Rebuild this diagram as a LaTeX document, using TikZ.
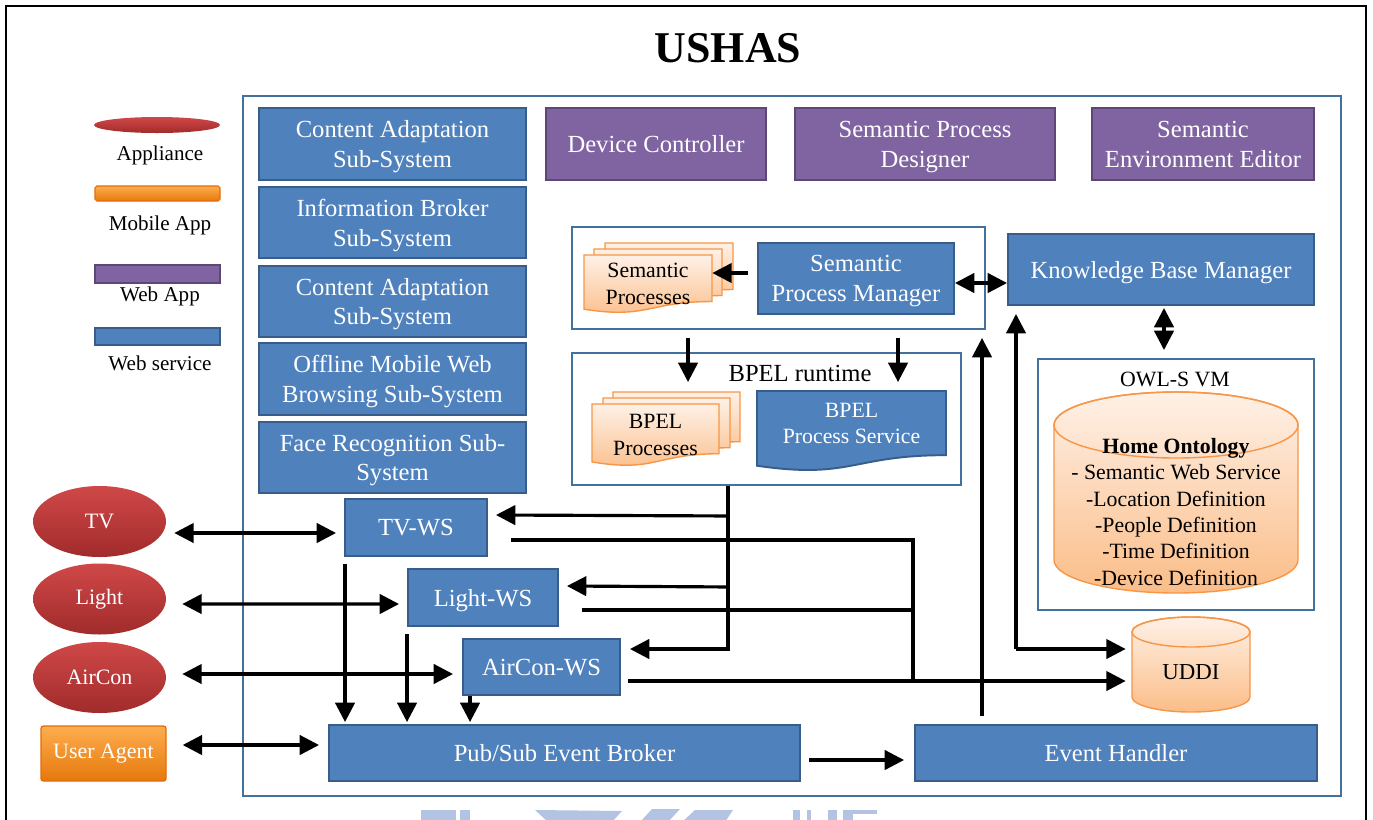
\documentclass[tikz,border=0pt]{standalone}
\usepackage{fontspec}
\setmainfont{Liberation Serif}
\usetikzlibrary{arrows.meta,calc,shapes.geometric}

\definecolor{wsblue}{HTML}{4F81BD}
\definecolor{wsedge}{HTML}{385D8A}
\definecolor{wapurple}{HTML}{8064A2}
\definecolor{waedge}{HTML}{5C4776}
\definecolor{framecol}{HTML}{41719C}
\definecolor{redtop}{HTML}{D04848}
\definecolor{redbot}{HTML}{A12B2B}
\definecolor{orgtop}{HTML}{FDAE4E}
\definecolor{orgbot}{HTML}{E6780C}
\definecolor{orgedge}{HTML}{E46C0A}
\definecolor{pchtop}{HTML}{FEF1E7}
\definecolor{pchbot}{HTML}{FBBD88}
\definecolor{pchedge}{HTML}{F79646}
\definecolor{wmark}{HTML}{B3C3E2}

\tikzset{
  big/.style={font=\fontsize{14}{17}\selectfont},
  mid/.style={font=\fontsize{12.4}{15}\selectfont},
  small/.style={font=\fontsize{12}{14}\selectfont},
  wsbox/.style={draw=wsedge, fill=wsblue, line width=1.1pt, text=white,
    align=center, inner sep=0pt, text depth=0pt, big},
  wabox/.style={wsbox, draw=waedge, fill=wapurple},
  panel/.style={draw=framecol, line width=1.1pt, fill=white, inner sep=0pt},
  appl/.style={ellipse, top color=redtop, bottom color=redbot, draw=none,
    text=white, minimum width=2.66cm, minimum height=1.42cm, inner sep=0pt,
    font=\fontsize{12.5}{15}\selectfont},
  orangebox/.style={inner sep=0pt, top color=orgtop, bottom color=orgbot,
    draw=orgedge, line width=0.8pt, rounded corners=1.5pt},
  conn/.style={line width=1.8pt},
  arr/.style={conn, -{Triangle[length=11pt,width=11pt]}},
  darr/.style={conn, {Triangle[length=11pt,width=11pt]}-{Triangle[length=11pt,width=11pt]}},
  sheet/.style={draw=pchedge, line width=0.8pt, top color=pchtop, bottom color=pchbot},
  bluesheet/.style={draw=wsedge, line width=1.1pt, fill=wsblue},
  txtonly/.style={inner sep=0pt, align=center}
}

% rectangular node given by its corners: [style]{name}{x0}{y0}{x1}{y1}{text}
\newcommand\cornernode[7][]{%
  \node[#1, minimum width={(#5-#3)*0.02cm}, minimum height={(#6-#4)*0.02cm}]
    (#2) at ({(#3+#5)/2},{(#4+#6)/2}) {#7};}

% document sheet with a wavy lower edge: [style]{x0}{y0}{x1}{y1}
\newcommand\docsheet[5][sheet]{%
  \path[#1] (#2,#3) -- (#4,#3) -- (#4,{#3+0.802*(#5-#3)})
    .. controls ({(#2+#4)/2},{#3+0.802*(#5-#3)}) and ({(#2+#4)/2},{#3+1.107*(#5-#3)})
    .. (#2,{#3+0.934*(#5-#3)}) -- cycle;}

% upright cylinder: {x0}{y0}{x1}{y1}{end radius}
\newcommand\cylshape[5]{%
  \path[draw=pchedge, line width=0.8pt, top color=pchtop, bottom color=pchbot]
    (#1,{#2+#5}) -- (#1,{#4-#5})
    arc[start angle=180, end angle=0, x radius={(#3-#1)/2}, y radius=#5]
    -- (#3,{#2+#5})
    arc[start angle=0, end angle=-180, x radius={(#3-#1)/2}, y radius=#5] -- cycle;
  \draw[pchedge, line width=0.8pt] ({(#1+#3)/2},{#2+#5})
    ellipse[x radius={(#3-#1)/2}, y radius=#5];}

\begin{document}
\begin{tikzpicture}[x=0.02cm,y=-0.02cm]
\useasboundingbox (0,0) rectangle (1373,819);
\clip (0,0) rectangle (1373,819);

% page border
\draw[line width=1.2pt] (6,840) -- (6,6) -- (1366,6) -- (1366,840);

% title
\node[font=\bfseries\fontsize{25}{30}\selectfont] (title) at (728,48) {USHAS};

% legend
\node[ellipse, top color=redtop, bottom color=redbot, minimum width=2.52cm,
  minimum height=0.32cm, inner sep=0pt] (lgapp) at (157,125) {};
\node[small] (lgapptxt) at (160,155) {Appliance};
\cornernode[orangebox, rounded corners=1pt, line width=0.6pt]{lgmob}{95}{186}{220}{201}{}
\node[small] (lgmobtxt) at (160,225) {Mobile App};
\cornernode[inner sep=0pt, fill=wapurple, draw=waedge, line width=0.8pt]{lgweb}{95}{265}{220}{283}{}
\node[small] (lgwebtxt) at (160,296) {Web App};
\cornernode[inner sep=0pt, fill=wsblue, draw=wsedge, line width=0.8pt]{lgws}{95}{328}{220}{345}{}
\node[small] (lgwstxt) at (160,363) {Web service};

% USHAS frame
\cornernode[panel]{ushas}{243}{96}{1341}{796}{}

% sub-systems
\cornernode[wsbox]{ca1}{259}{108}{526}{180}{Content Adaptation\\Sub-System}
\cornernode[wsbox]{ib}{259}{187}{526}{258}{Information Broker\\Sub-System}
\cornernode[wsbox]{ca2}{259}{266}{526}{337}{Content Adaptation\\Sub-System}
\cornernode[wsbox]{omwb}{259}{343}{526}{415}{Offline Mobile Web\\Browsing Sub-System}
\cornernode[wsbox]{frs}{259}{422}{526}{493}{Face Recognition Sub-\\System}

% web applications
\cornernode[wabox]{dc}{546}{108}{766}{180}{Device Controller}
\cornernode[wabox]{spd}{795}{108}{1055}{180}{Semantic Process\\Designer}
\cornernode[wabox]{see}{1092}{108}{1314}{180}{Semantic\\Environment Editor}

% semantic process layer
\cornernode[panel]{semcont}{572}{227}{985}{329}{}
\docsheet{605}{243}{733}{301}
\docsheet{594}{249}{722}{307}
\docsheet{584}{255}{712}{313}
\cornernode[txtonly, mid]{sproc}{584}{255}{712}{313}{Semantic\\Processes}
\cornernode[wsbox]{spm}{758}{243}{954}{314}{Semantic\\Process Manager}

% BPEL runtime
\cornernode[panel]{bpelrt}{572}{353}{961}{485}{}
\node[big] (bpellbl) at (800,373) {BPEL runtime};
\docsheet{613}{392}{740}{454}
\docsheet{603}{398}{730}{460}
\docsheet{592}{404}{719}{466}
\cornernode[txtonly, mid]{bproc}{592}{404}{719}{466}{BPEL\\Processes}
\docsheet[bluesheet]{757}{391}{946}{471}
\cornernode[txtonly, mid, text=white]{bps}{757}{391}{946}{456}{BPEL\\Process Service}

% knowledge base
\cornernode[wsbox]{kbm}{1008}{234}{1314}{305}{Knowledge Base Manager}
\cornernode[panel]{owls}{1038}{359}{1314}{610}{}
\node[mid] (owlslbl) at (1175,379) {OWL-S VM};
\cylshape{1054}{392}{1298}{593}{33}
\node[txtonly, mid] (onto) at (1176,512) {\textbf{Home Ontology}\\- Semantic Web Service\\-Location Definition\\-People Definition\\-Time Definition\\-Device Definition};
\cylshape{1132}{617}{1250}{712}{15}
\cornernode[txtonly, font=\fontsize{13}{15}\selectfont]{uddi}{1132}{632}{1250}{712}{UDDI}

% device web services and event handling
\cornernode[wsbox]{tvws}{345}{499}{487}{556}{TV-WS}
\cornernode[wsbox]{lightws}{408}{569}{558}{626}{Light-WS}
\cornernode[wsbox]{airws}{463}{639}{620}{695}{AirCon-WS}
\cornernode[wsbox]{pubsub}{329}{725}{800}{781}{Pub/Sub Event Broker}
\cornernode[wsbox]{evh}{915}{725}{1317}{781}{Event Handler}

% appliances and user agent
\node[appl] (tv) at (99.5,521.5) {TV};
\node[appl] (light) at (99.5,599) {Light};
\node[appl] (aircon) at (99.5,677.5) {AirCon};
\cornernode[orangebox, text=white, font=\fontsize{12.5}{15}\selectfont]{ua}{41}{726}{166}{781}{User Agent}

% ---- connectors ----
\draw[arr] ($(spm.west)+(-9,-5.5)$) -- ($(sproc.east)+(0,-11)$);
\draw[darr] ($(spm.east)+(0,4.5)$) -- ($(kbm.west)+(0,13.5)$);
\draw[darr] ($(kbm.south)+(3,2)$) -- ($(kbm.south |- owls.north)+(3,-8)$);
\draw[arr] ($(semcont.south west)+(117,8)$) -- ($(bpelrt.north west)+(117,30)$);
\draw[arr] ($(semcont.south west)+(327,8)$) -- ($(bpelrt.north west)+(327,30)$);

% BPEL runtime to the device services
\coordinate (bj) at ($(bpelrt.south west)+(157,0)$);
\draw[arr] (bj) |- ($(airws.east)+(9,-18)$);
\draw[arr] ($(bj)+(0,30)$) -- ($(tvws.east)+(8,-12.5)$);
\draw[arr] ($(bj)+(0,101)$) -- ($(lightws.east)+(8,-11.5)$);

% device services to UDDI
\coordinate (tw1) at ($(tvws.east)+(23,12.5)$);
\coordinate (lw1) at ($(lightws.east)+(23,12.5)$);
\coordinate (aw1) at ($(airws.east)+(7,14)$);
\coordinate (ujoin) at (913,681);
\draw[conn] (tw1) -| (ujoin);
\draw[conn] (lw1) -- (lw1 -| ujoin);
\draw[arr] (aw1) -- ($(aw1 -| uddi.west)+(-6,0)$);

% knowledge base link
\coordinate (kc) at (1016,649);
\draw[arr] (kc) -- ($(kc |- kbm.south)+(0,8)$);
\draw[arr] (kc) -- ($(kc -| uddi.west)+(-6,0)$);

% event handler feedback
\coordinate (eh1) at ($(evh.north west)+(68,-8)$);
\draw[arr] (eh1) -- ($(eh1 |- semcont.south)+(0,8)$);
\draw[arr] ($(pubsub.east)+(8,7)$) -- ($(evh.west)+(-10,7)$);

% appliances to services
\draw[darr] ($(tv.east)+(8,11.5)$) -- ($(tvws.west)+(-8,5.5)$);
\draw[darr] ($(light.east)+(16,5)$) -- ($(lightws.west)+(-8,6.5)$);
\draw[darr] ($(aircon.east)+(16,-3.5)$) -- ($(airws.west)+(-9,7)$);
\draw[darr] ($(ua.east)+(16,-8.5)$) -- ($(pubsub.west)+(-9,-8)$);

% services publish to the broker
\draw[arr] ($(tvws.south west)+(1,7)$) -- ($(tvws.south west |- pubsub.north)+(1,-2)$);
\draw[arr] ($(lightws.south west)+(0,7)$) -- ($(lightws.south west |- pubsub.north)+(0,-2)$);
\draw[arr] ($(airws.south west)+(8,0)$) -- ($(airws.south west |- pubsub.north)+(8,-2)$);

% faint emblem along the lower edge
\fill[wmark] (421,810) rectangle (456,822);
\fill[wmark] (460,810) rectangle (470,822);
\fill[wmark] (535,810) -- (622,811) -- (612,822) -- (548,822) -- cycle;
\fill[wmark] (640,822) -- (652,809) -- (680,809) -- (668,822) -- cycle;
\fill[wmark] (682,822) -- (695,810) -- (733,810) -- (725,822) -- cycle;
\fill[wmark] (793,810) rectangle (800,822);
\fill[wmark] (807,810) rectangle (811,822);
\fill[wmark] (828,810) rectangle (837,822);
\fill[wmark] (843,810) rectangle (877,814);
\fill[wmark] (843,810) rectangle (853,822);
\end{tikzpicture}
\end{document}
